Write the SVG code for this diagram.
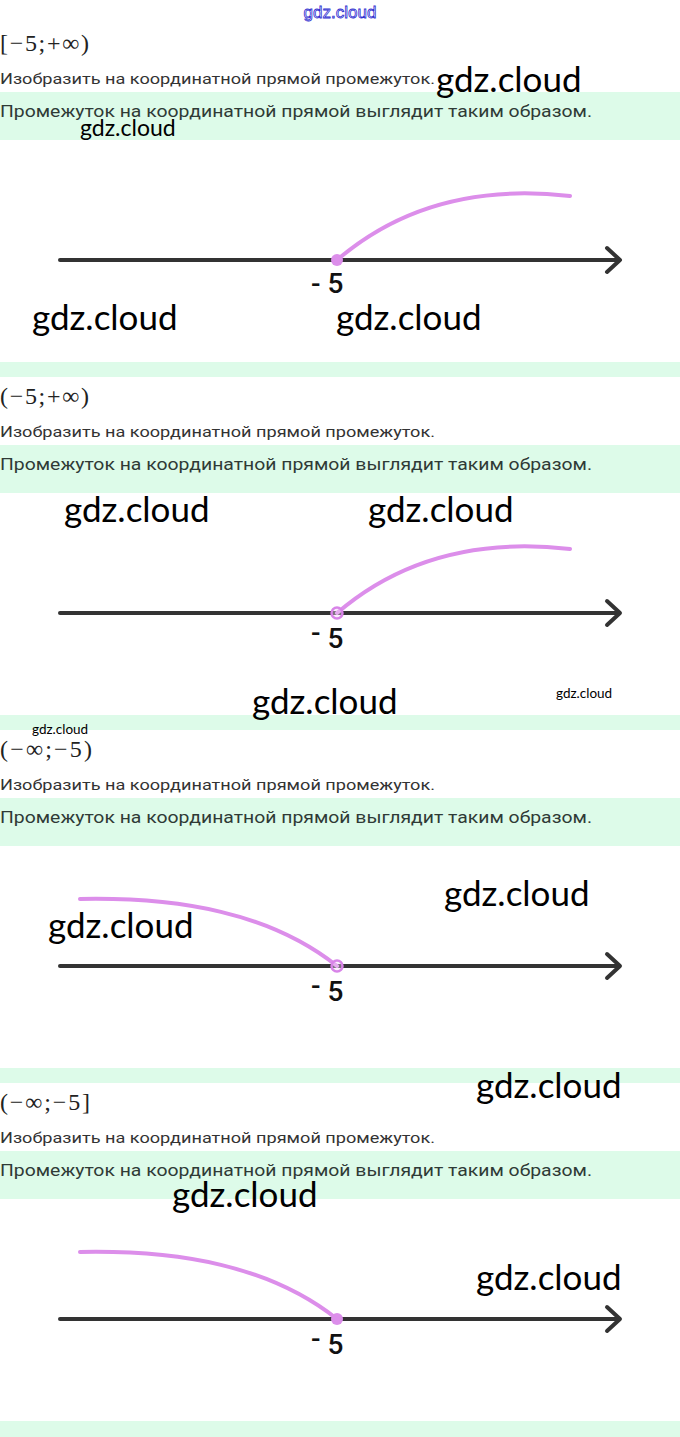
<svg xmlns="http://www.w3.org/2000/svg" width="680" height="1437" viewBox="0 0 680 1437">
<style>
.bg{fill:#ffffff}
.band{fill:#ddfbe9}
.math{font-family:"Liberation Serif","DejaVu Serif",serif;font-size:24px;fill:#222}
.task{font-family:Roboto,"Liberation Sans",sans-serif;font-size:15.5px;fill:#333}
.ans{font-family:Roboto,"Liberation Sans",sans-serif;font-size:17px;fill:#2f3a36}
.wm{font-family:Lato,"Open Sans",sans-serif;font-size:35px;fill:#000}
.wm2{font-family:Lato,"Open Sans",sans-serif;font-size:23px;fill:#000}
.wm3{font-family:Lato,"Open Sans",sans-serif;font-size:13.5px;fill:#000}
.wmtop{font-family:"Liberation Sans",sans-serif;font-size:17px;fill:#eeeeff;stroke:#3030d0;stroke-width:0.8}
.axis{stroke:#333;stroke-width:4;stroke-linecap:round;fill:none}
.head{stroke:#333;stroke-width:4;stroke-linecap:round;stroke-linejoin:round;fill:none}
.ray{stroke:#dc8eea;stroke-width:4;stroke-linecap:round;fill:none}
.dot{fill:#dc8eea}
.hole{fill:#f3d6f7;fill-opacity:0.4;stroke:#d884e8;stroke-width:2.5}
.lbl{font-family:Roboto,"Liberation Sans",Arial,sans-serif;font-size:28px;font-weight:500;fill:#111}
</style>
<rect class="bg" x="0" y="0" width="680" height="1437"/>

<text class="wmtop" x="340" y="18" text-anchor="middle">gdz.cloud</text>

<!-- Section 1 -->
<g id="section1">
  <text class="math" x="0" y="51" textLength="89" lengthAdjust="spacing">[−5;+∞)</text>
  <text class="task" x="0" y="84" textLength="435" lengthAdjust="spacingAndGlyphs">Изобразить на координатной прямой промежуток.</text>
  <rect class="band" x="0" y="92" width="680" height="48"/>
  <text class="ans" x="0" y="117" textLength="592" lengthAdjust="spacingAndGlyphs">Промежуток на координатной прямой выглядит таким образом.</text>
  <g id="line1">
    <line class="axis" x1="60" y1="260" x2="619" y2="260"/>
    <polyline class="head" points="607,248 620,260 607,272"/>
    <path class="ray" d="M337,260 Q430,180 570,196"/>
    <circle class="dot" cx="337" cy="260" r="6"/>
    <text class="lbl" x="311" y="293">- 5</text>
  </g>
  <rect class="band" x="0" y="362" width="680" height="15"/>
</g>

<!-- Section 2 -->
<g id="section2">
  <text class="math" x="0" y="404" textLength="89" lengthAdjust="spacing">(−5;+∞)</text>
  <text class="task" x="0" y="437" textLength="435" lengthAdjust="spacingAndGlyphs">Изобразить на координатной прямой промежуток.</text>
  <rect class="band" x="0" y="445" width="680" height="48"/>
  <text class="ans" x="0" y="470" textLength="592" lengthAdjust="spacingAndGlyphs">Промежуток на координатной прямой выглядит таким образом.</text>
  <g id="line2">
    <line class="axis" x1="60" y1="613" x2="619" y2="613"/>
    <polyline class="head" points="607,601 620,613 607,625"/>
    <path class="ray" d="M337,613 Q430,533 570,549"/>
    <circle class="hole" cx="337" cy="613" r="5.5"/>
    <text class="lbl" x="311" y="648"><tspan dy="-6">-</tspan><tspan dy="6"> 5</tspan></text>
  </g>
  <rect class="band" x="0" y="715" width="680" height="15"/>
</g>

<!-- Section 3 -->
<g id="section3">
  <text class="math" x="0" y="757" textLength="92" lengthAdjust="spacing">(−∞;−5)</text>
  <text class="task" x="0" y="790" textLength="435" lengthAdjust="spacingAndGlyphs">Изобразить на координатной прямой промежуток.</text>
  <rect class="band" x="0" y="798" width="680" height="48"/>
  <text class="ans" x="0" y="823" textLength="592" lengthAdjust="spacingAndGlyphs">Промежуток на координатной прямой выглядит таким образом.</text>
  <g id="line3">
    <line class="axis" x1="60" y1="966" x2="619" y2="966"/>
    <polyline class="head" points="607,954 620,966 607,978"/>
    <path class="ray" d="M80,899 C180,897 270,913 337,966"/>
    <circle class="hole" cx="337" cy="966" r="5.5"/>
    <text class="lbl" x="311" y="1001"><tspan dy="-6">-</tspan><tspan dy="6"> 5</tspan></text>
  </g>
  <rect class="band" x="0" y="1068" width="680" height="15"/>
</g>

<!-- Section 4 -->
<g id="section4">
  <text class="math" x="0" y="1110" textLength="90" lengthAdjust="spacing">(−∞;−5]</text>
  <text class="task" x="0" y="1143" textLength="435" lengthAdjust="spacingAndGlyphs">Изобразить на координатной прямой промежуток.</text>
  <rect class="band" x="0" y="1151" width="680" height="48"/>
  <text class="ans" x="0" y="1176" textLength="592" lengthAdjust="spacingAndGlyphs">Промежуток на координатной прямой выглядит таким образом.</text>
  <g id="line4">
    <line class="axis" x1="60" y1="1319" x2="619" y2="1319"/>
    <polyline class="head" points="607,1307 620,1319 607,1331"/>
    <path class="ray" d="M80,1252 C180,1250 270,1266 337,1319"/>
    <circle class="dot" cx="337" cy="1319" r="6"/>
    <text class="lbl" x="311" y="1354"><tspan dy="-6">-</tspan><tspan dy="6"> 5</tspan></text>
  </g>
  <rect class="band" x="0" y="1421" width="680" height="16"/>
</g>

<!-- Watermarks -->
<g id="watermarks">
  <text class="wm" x="436" y="92">gdz.cloud</text>
  <text class="wm2" x="80" y="136">gdz.cloud</text>
  <text class="wm" x="32" y="330">gdz.cloud</text>
  <text class="wm" x="336" y="330">gdz.cloud</text>
  <text class="wm" x="64" y="522">gdz.cloud</text>
  <text class="wm" x="368" y="522">gdz.cloud</text>
  <text class="wm" x="252" y="714">gdz.cloud</text>
  <text class="wm3" x="556" y="698">gdz.cloud</text>
  <text class="wm3" x="32" y="734">gdz.cloud</text>
  <text class="wm" x="444" y="906">gdz.cloud</text>
  <text class="wm" x="48" y="938">gdz.cloud</text>
  <text class="wm" x="476" y="1098">gdz.cloud</text>
  <text class="wm" x="172" y="1207">gdz.cloud</text>
  <text class="wm" x="476" y="1290">gdz.cloud</text>
</g>
</svg>
